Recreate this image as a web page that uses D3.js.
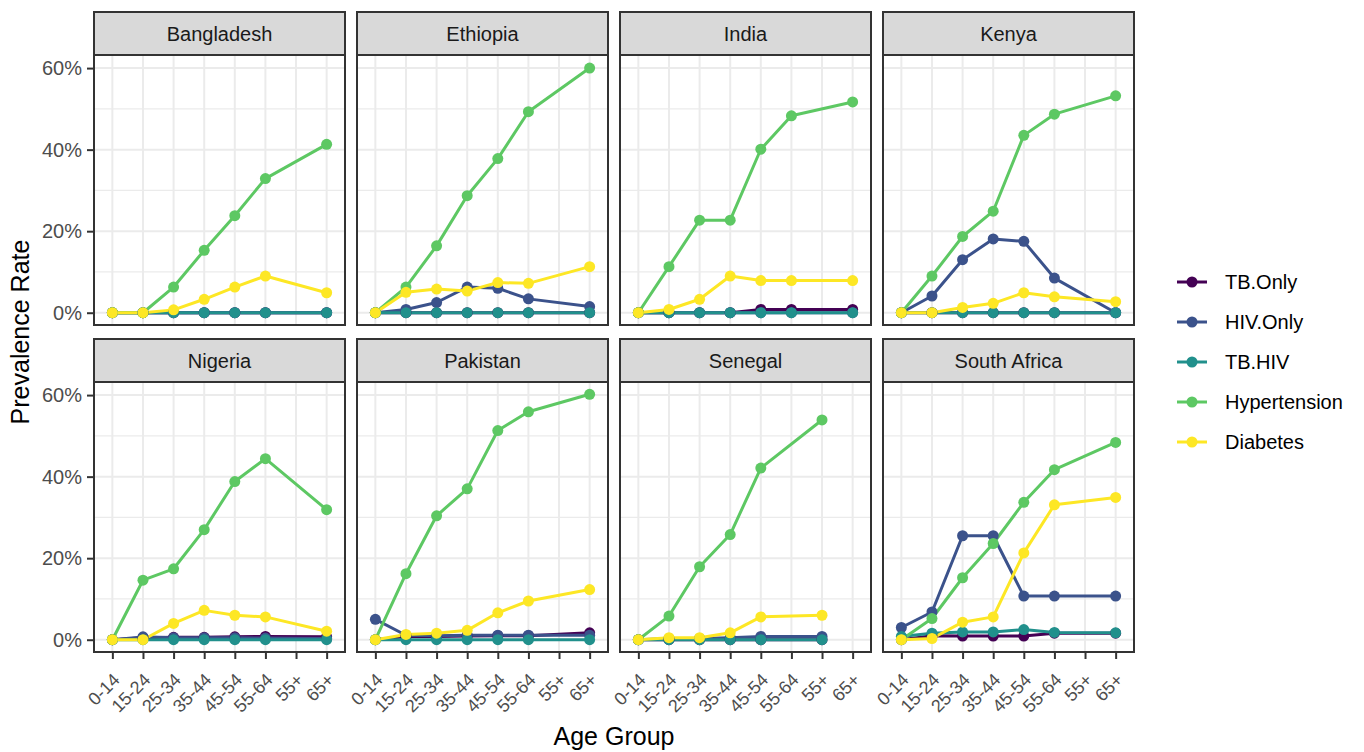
<!DOCTYPE html>
<html>
<head>
<meta charset="utf-8">
<script src="https://cdn.jsdelivr.net/npm/d3@7"></script>
<style>
  body { margin: 0; background: #fff; }
  text { font-family: "Liberation Sans", Arial, Helvetica, sans-serif; }
</style>
</head>
<body>
<svg id="chart" width="1364" height="752"></svg>
<script>
// Age groups on the x axis (discrete)
const ageGroups = ["0-14", "15-24", "25-34", "35-44", "45-54", "55-64", "55+", "65+"];

// Facet order: row by row
const countries = ["Bangladesh", "Ethiopia", "India", "Kenya",
                   "Nigeria", "Pakistan", "Senegal", "South Africa"];

const seriesNames = ["TB.Only", "HIV.Only", "TB.HIV", "Hypertension", "Diabetes"];
const seriesColors = ["#440154", "#3B528B", "#21908C", "#5DC863", "#FDE725"];

// y axis ticks (percent)
const yTicks = [0, 20, 40, 60];
const yMinorTicks = [10, 30, 50];

// Prevalence (%) per country (rows, same order as countries) and age group (columns).
// null = age group not reported for that country.
const tbOnly = [
  [0, 0, 0, 0, 0, 0, null, 0],
  [0, 0, 0, 0, 0, 0, null, 0],
  [0, 0, 0, 0, 0.8, 0.8, null, 0.8],
  [0, 0, 0, 0, 0, 0, null, 0],
  [0, 0.5, 0.6, 0.6, 0.7, 0.8, null, 0.7],
  [0, 0.8, 0.8, 0.9, 1.0, 1.0, null, 1.7],
  [0, 0, 0, 0, 0, null, 0, null],
  [0, 1.0, 0.9, 0.9, 0.9, 1.6, null, 1.6]
];
const hivOnly = [
  [0, 0, 0, 0, 0, 0, null, 0],
  [0, 0.8, 2.5, 6.3, 6.0, 3.4, null, 1.5],
  [0, 0, 0, 0, 0, 0, null, 0],
  [0, 4.1, 13.0, 18.1, 17.5, 8.5, null, 0],
  [0, 0.7, 0.5, 0.5, 0.5, 0.4, null, 0.3],
  [5.0, 1.1, 1.0, 1.1, 1.1, 1.1, null, 1.1],
  [0, 0.3, 0.3, 0.5, 0.8, null, 0.8, null],
  [3.0, 6.8, 25.5, 25.5, 10.7, 10.7, null, 10.7]
];
const tbHiv = [
  [0, 0, 0, 0, 0, 0, null, 0],
  [0, 0, 0, 0, 0, 0, null, 0],
  [0, 0, 0, 0, 0, 0, null, 0],
  [0, 0, 0, 0, 0, 0, null, 0],
  [0, 0, 0, 0, 0, 0, null, 0],
  [0, 0, 0, 0, 0, 0, null, 0],
  [0, 0, 0, 0, 0, null, 0, null],
  [0.8, 1.6, 1.9, 1.9, 2.5, 1.8, null, 1.7]
];
const hypertension = [
  [0, 0, 6.3, 15.3, 23.8, 32.9, null, 41.3],
  [0, 6.3, 16.4, 28.7, 37.8, 49.3, null, 60.0],
  [0, 11.3, 22.7, 22.7, 40.1, 48.3, null, 51.7],
  [0, 9.0, 18.7, 24.9, 43.5, 48.7, null, 53.2],
  [0, 14.6, 17.4, 27.0, 38.8, 44.4, null, 31.9],
  [0, 16.2, 30.4, 37.0, 51.3, 55.9, null, 60.2],
  [0, 5.8, 17.9, 25.8, 42.1, null, 53.9, null],
  [0, 5.2, 15.2, 23.6, 33.7, 41.7, null, 48.4]
];
const diabetes = [
  [0, 0, 0.7, 3.3, 6.3, 9.0, null, 4.9],
  [0, 5.0, 5.8, 5.3, 7.4, 7.2, null, 11.3],
  [0, 0.8, 3.3, 9.0, 7.9, 7.9, null, 7.9],
  [0, 0, 1.3, 2.3, 4.9, 3.9, null, 2.7],
  [0, 0, 4.0, 7.2, 6.0, 5.6, null, 2.1],
  [0, 1.3, 1.6, 2.3, 6.6, 9.5, null, 12.3],
  [0, 0.5, 0.5, 1.7, 5.6, null, 6.0, null],
  [0, 0.3, 4.3, 5.6, 21.3, 33.1, null, 34.9]
];

const seriesValues = [tbOnly, hivOnly, tbHiv, hypertension, diabetes];

// ---- layout ----
const panelLefts = [94, 357, 620, 883];
const panelW = 251;
const stripTops = [12, 339];
const stripH = 43;
const plotH = 270;
const lineW = 3;
const pointR = 5.5;

const svg = d3.select("#chart");

const maxVal = d3.max(seriesValues.flat(2).filter(v => v != null));
const x = d3.scalePoint().domain(ageGroups).range([0, panelW]).padding(0.6);
const y = d3.scaleLinear().domain([-0.05 * maxVal, 1.05 * maxVal]).range([plotH, 0]);

const line = d3.line().x(d => x(d.g)).y(d => y(d.v));

countries.forEach((country, ci) => {
  const col = ci % 4, row = Math.floor(ci / 4);
  const left = panelLefts[col];
  const top = stripTops[row] + stripH;

  // strip
  svg.append("rect")
    .attr("x", left).attr("y", stripTops[row])
    .attr("width", panelW).attr("height", stripH)
    .attr("fill", "#D9D9D9").attr("stroke", "#333333").attr("stroke-width", 2);
  svg.append("text")
    .attr("x", left + panelW / 2).attr("y", stripTops[row] + stripH / 2)
    .attr("text-anchor", "middle").attr("dominant-baseline", "central")
    .attr("font-size", 20).attr("fill", "#1A1A1A")
    .text(country);

  const g = svg.append("g").attr("transform", `translate(${left},${top})`);
  g.append("rect").attr("width", panelW).attr("height", plotH).attr("fill", "#fff");

  // grid
  g.selectAll(".minor").data(yMinorTicks).join("line")
    .attr("x1", 0).attr("x2", panelW)
    .attr("y1", d => y(d)).attr("y2", d => y(d))
    .attr("stroke", "#EBEBEB").attr("stroke-width", 1.2);
  g.selectAll(".majorY").data(yTicks).join("line")
    .attr("x1", 0).attr("x2", panelW)
    .attr("y1", d => y(d)).attr("y2", d => y(d))
    .attr("stroke", "#EBEBEB").attr("stroke-width", 2);
  g.selectAll(".majorX").data(ageGroups).join("line")
    .attr("x1", d => x(d)).attr("x2", d => x(d))
    .attr("y1", 0).attr("y2", plotH)
    .attr("stroke", "#EBEBEB").attr("stroke-width", 2);

  const series = seriesNames.map((name, si) => ({
    name, color: seriesColors[si],
    pts: ageGroups.map((a, i) => ({ g: a, v: seriesValues[si][ci][i] }))
                  .filter(d => d.v != null)
  }));

  // lines first, then points on top
  series.forEach(s => {
    g.append("path").datum(s.pts)
      .attr("d", line).attr("fill", "none")
      .attr("stroke", s.color).attr("stroke-width", lineW)
      .attr("stroke-linejoin", "round");
  });
  series.forEach(s => {
    g.selectAll(null).data(s.pts).join("circle")
      .attr("cx", d => x(d.g)).attr("cy", d => y(d.v)).attr("r", pointR)
      .attr("fill", s.color);
  });

  g.append("rect").attr("width", panelW).attr("height", plotH)
    .attr("fill", "none").attr("stroke", "#333333").attr("stroke-width", 2);

  // y axis on first column
  if (col === 0) {
    const ya = g.append("g").call(
      d3.axisLeft(y).tickValues(yTicks).tickFormat(d => d + "%")
        .tickSize(7).tickSizeOuter(0).tickPadding(5));
    ya.select(".domain").remove();
    ya.selectAll(".tick line").attr("stroke", "#333333").attr("stroke-width", 2);
    ya.selectAll(".tick text").attr("font-size", 20).attr("fill", "#4D4D4D")
      .attr("font-family", "Liberation Sans, Arial, sans-serif");
  }
  // x axis on bottom row
  if (row === 1) {
    const xa = g.append("g").attr("transform", `translate(0,${plotH})`).call(
      d3.axisBottom(x).tickSize(7).tickSizeOuter(0));
    xa.select(".domain").remove();
    xa.selectAll(".tick line").attr("stroke", "#333333").attr("stroke-width", 2);
    xa.selectAll(".tick text")
      .attr("font-size", 18).attr("fill", "#4D4D4D")
      .attr("font-family", "Liberation Sans, Arial, sans-serif")
      .attr("text-anchor", "end")
      .attr("y", null).attr("dy", null)
      .attr("transform", "translate(8,29) rotate(-45)");
  }
});

// axis titles
svg.append("text")
  .attr("x", (panelLefts[0] + panelLefts[3] + panelW) / 2).attr("y", 745)
  .attr("text-anchor", "middle").attr("font-size", 25).attr("fill", "#000")
  .text("Age Group");
svg.append("text")
  .attr("transform", `translate(29,${(stripTops[0] + stripTops[1] + stripH + plotH) / 2}) rotate(-90)`)
  .attr("text-anchor", "middle").attr("font-size", 25).attr("fill", "#000")
  .text("Prevalence Rate");

// legend
const legend = svg.append("g").attr("transform", "translate(1177,282)");
seriesNames.forEach((name, i) => {
  const lg = legend.append("g").attr("transform", `translate(0,${i * 40})`);
  lg.append("line").attr("x1", 0).attr("x2", 30).attr("y1", 0).attr("y2", 0)
    .attr("stroke", seriesColors[i]).attr("stroke-width", lineW);
  lg.append("circle").attr("cx", 15).attr("cy", 0).attr("r", pointR).attr("fill", seriesColors[i]);
  lg.append("text").attr("x", 48).attr("y", 0).attr("dominant-baseline", "central")
    .attr("font-size", 20).attr("fill", "#000").text(name);
});
</script>
</body>
</html>
